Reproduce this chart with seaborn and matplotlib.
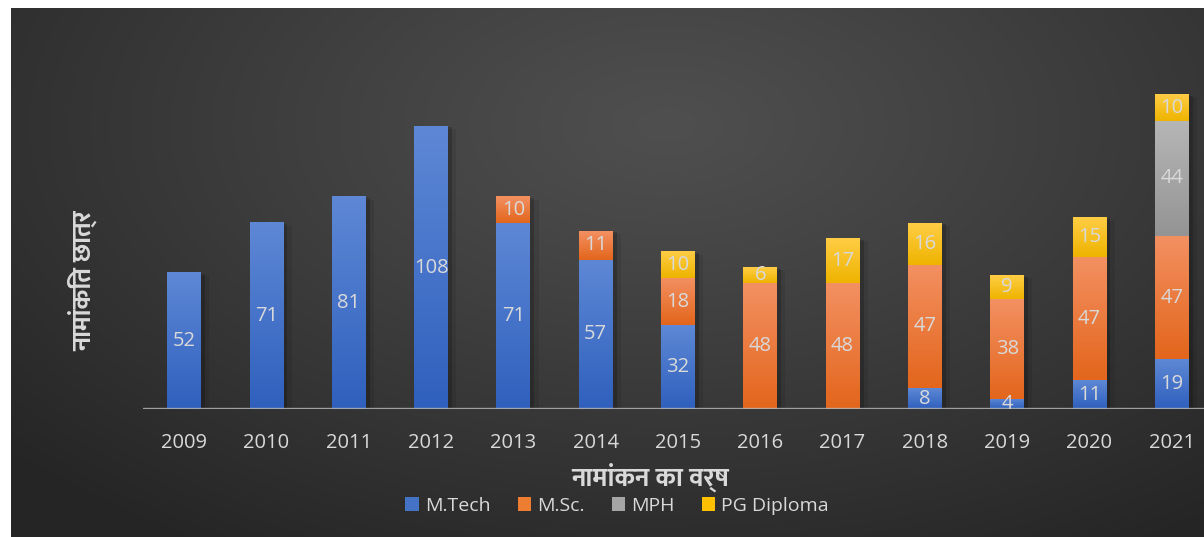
import matplotlib
matplotlib.use("Agg")
import numpy as np
import pandas as pd
import seaborn as sns
import matplotlib.pyplot as plt
from matplotlib import patheffects as pe
from matplotlib.patches import Rectangle
from matplotlib.colors import to_rgb

# ---- data ----
years = ["2009", "2010", "2011", "2012", "2013", "2014", "2015",
         "2016", "2017", "2018", "2019", "2020", "2021"]
mtech = [52, 71, 81, 108, 71, 57, 32, 0, 0, 8, 4, 11, 19]
msc = [0, 0, 0, 0, 10, 11, 18, 48, 48, 47, 38, 47, 47]
mph = [0, 0, 0, 0, 0, 0, 0, 0, 0, 0, 0, 0, 44]
pgdip = [0, 0, 0, 0, 0, 0, 10, 6, 17, 16, 9, 15, 10]

series_names = ["M.Tech", "M.Sc.", "MPH", "PG Diploma"]
series_vals = [mtech, msc, mph, pgdip]
# (top colour, bottom colour) of each series' vertical gradient
grad = {
    "M.Tech": ("#5e88d6", "#2f60bd"),
    "M.Sc.": ("#f39062", "#e3661c"),
    "MPH": ("#b6b6b6", "#949494"),
    "PG Diploma": ("#ffcd45", "#eeb400"),
}
base = {"M.Tech": "#4472c4", "M.Sc.": "#ed7d31", "MPH": "#a5a5a5", "PG Diploma": "#ffc000"}

DEV = ["Ek Mukta", "FreeSans", "DejaVu Sans"]
NUM = ["Open Sans", "DejaVu Sans"]
TXT = "#d9d9d9"

sns.set_theme(style="white")
plt.rcParams["font.family"] = NUM

W, H = 1204, 537
fig = plt.figure(figsize=(W / 100, H / 100), dpi=100)
fig.patch.set_facecolor("white")

# ---- dark radial backdrop panel ----
px0, py_top = 11, 8
bg = fig.add_axes([px0 / W, 0, 1 - px0 / W, (H - py_top) / H], zorder=0)
gx, gy = np.meshgrid(np.linspace(0, 1, 400), np.linspace(0, 1, 200))
r = np.sqrt(((gx - 0.55) / 0.75) ** 2 + ((gy - 0.22) / 0.95) ** 2)
r = np.clip(r, 0, 1) ** 1.1
c_in, c_out = np.array([79, 79, 79]) / 255, np.array([37, 37, 37]) / 255
img = c_in[None, None, :] * (1 - r[..., None]) + c_out[None, None, :] * r[..., None]
bg.imshow(img, aspect="auto", extent=(0, 1, 0, 1), origin="upper")
bg.set_axis_off()

# ---- main axes ----
ax_left, ax_base = 143, 409
unit_px = 2.62
ymax = 140
ax = fig.add_axes([ax_left / W, (H - ax_base) / H, (W - ax_left) / W, ymax * unit_px / H], zorder=1)
ax.patch.set_alpha(0)

df = pd.DataFrame({"year": years})
cum = np.zeros(len(years))
bottoms, tops = {}, {}
for name, vals in zip(series_names, series_vals):
    bottoms[name] = cum.copy()
    cum = cum + np.array(vals)
    tops[name] = cum.copy()
    df[name] = cum

# stacked bars: draw cumulative totals from the top series down
for name in reversed(series_names):
    sns.barplot(data=df, x="year", y=name, color=base[name], width=0.41,
                saturation=1, ax=ax, zorder=2, linewidth=0, edgecolor="none")

n = len(years)
# soft shadow beside the full-height bars
total_patches = ax.patches[:n]
for p in total_patches:
    p.set_path_effects([pe.SimplePatchShadow(offset=(3, -1), shadow_rgbFace="black", alpha=0.18),
                        pe.SimplePatchShadow(offset=(6, -2), shadow_rgbFace="black", alpha=0.08),
                        pe.Normal()])

# gradient fill and value label for each visible segment
grad_col = np.linspace(0, 1, 64)[:, None]
for name in series_names:
    top_c, bot_c = np.array(to_rgb(grad[name][0])), np.array(to_rgb(grad[name][1]))
    g = top_c[None, None, :] * (1 - grad_col[..., None]) + bot_c[None, None, :] * grad_col[..., None]
    for i, p in enumerate(total_patches):
        b, t = bottoms[name][i], tops[name][i]
        if t - b <= 0:
            continue
        x0, w = p.get_x(), p.get_width()
        ax.imshow(g, aspect="auto", extent=(x0, x0 + w, b, t), origin="upper",
                  zorder=3, interpolation="bilinear")
        ax.text(x0 + w / 2, (b + t) / 2, f"{int(t - b)}", ha="center", va="center",
                color=TXT, fontsize=14.5, zorder=5)

ax.set_xlim(-0.5, -0.5 + (W - ax_left) / 82.3)
ax.set_ylim(0, ymax)
ax.axhline(0, color="#b4b4b4", lw=2.4, alpha=0.85, zorder=4)
sns.despine(ax=ax, left=True, bottom=True, top=True, right=True)
ax.set_yticks([])
ax.set_ylabel("")
ax.set_xlabel("")
ax.tick_params(axis="x", length=0, pad=17, labelsize=14.5, labelcolor=TXT)

# axis titles
fig.text(82 / W, 1 - 281 / H, "नामांकित छात्र", rotation=90, ha="center", va="center",
         color=TXT, fontsize=18.5, fontweight="bold", family=DEV)
fig.text(650 / W, 1 - 477 / H, "नामांकन का वर्ष", ha="center", va="center",
         color=TXT, fontsize=19, fontweight="bold", family=DEV)

# legend
handles = [Rectangle((0, 0), 1, 1, facecolor=base[nm], edgecolor="none") for nm in series_names]
leg = fig.legend(handles, series_names, loc="center", bbox_to_anchor=(617 / W, 1 - 506 / H),
                 ncol=4, frameon=False, fontsize=14, labelcolor=TXT, handlelength=0.7,
                 handleheight=0.7, handletextpad=0.3, columnspacing=1.4)

fig.savefig("out.png", dpi=100, facecolor="white")
